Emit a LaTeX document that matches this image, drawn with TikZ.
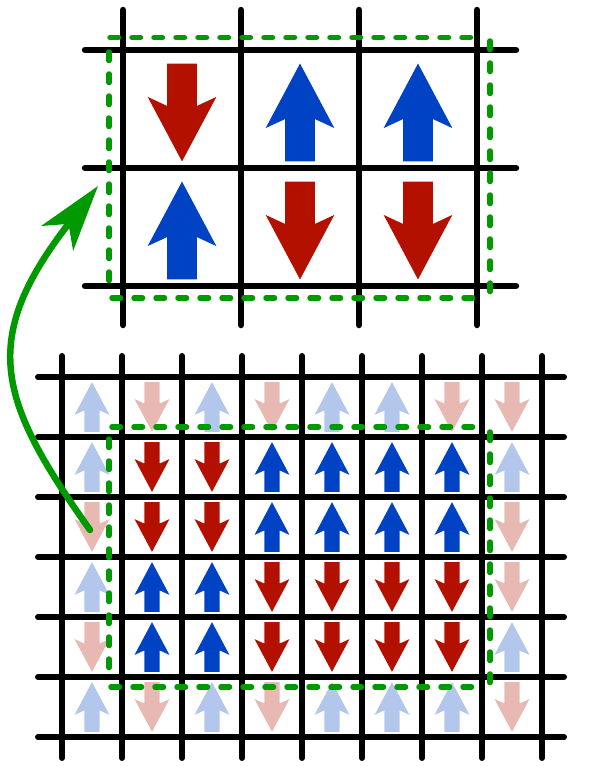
\documentclass[tikz,border=0pt]{standalone}
\usetikzlibrary{arrows.meta}
\definecolor{spinred}{RGB}{180,16,0}
\definecolor{spinblue}{RGB}{0,66,196}
\definecolor{lightblue}{RGB}{179,199,237}
\definecolor{lightred}{RGB}{232,184,179}
\definecolor{sgreen}{RGB}{0,153,0}
\tikzset{
  gridtop/.style={line width=6.5pt, line cap=round, draw=black},
  gridbot/.style={line width=6pt, line cap=round, draw=black},
  greendash/.style={draw=sgreen, line width=5.5pt, line cap=round, dash pattern=on 8.5pt off 13.5pt},
  greenarrow/.style={draw=sgreen, line width=6.5pt, line cap=round, -{Stealth[length=66pt,width=40pt,inset=18pt]}}
}
\newcommand\spinarr[5]{%
  \begin{scope}[shift={(#1,#2)},x=#3pt,y=#4#3pt]
    \fill[#5] (0,0.415) -- (0.291,-0.132) -- (0.127,-0.056) -- (0.127,-0.415)
      -- (-0.127,-0.415) -- (-0.127,-0.056) -- (-0.291,-0.132) -- cycle;
  \end{scope}}
\newcommand\spuL[2]{\spinarr{#1}{#2}{60}{}{lightblue}}
\newcommand\spdL[2]{\spinarr{#1}{#2}{60}{-}{lightred}}
\newcommand\spuB[2]{\spinarr{#1}{#2}{60}{}{spinblue}}
\newcommand\spdR[2]{\spinarr{#1}{#2}{60}{-}{spinred}}
\begin{document}
\begin{tikzpicture}[x=1pt,y=-1pt]
\useasboundingbox (0,0) rectangle (603,768);
% ---------- top grid ----------
\foreach \x in {123,241,359,477} \draw[gridtop] (\x,10) -- (\x,325);
\foreach \y in {50,168,286} \draw[gridtop] (85,\y) -- (516,\y);
\spinarr{182}{112.5}{118}{-}{spinred}
\spinarr{300}{112.5}{118}{}{spinblue}
\spinarr{418}{112.5}{118}{}{spinblue}
\spinarr{182}{230.5}{118}{}{spinblue}
\spinarr{300}{230.5}{118}{-}{spinred}
\spinarr{418}{230.5}{118}{-}{spinred}
% dashed frame (top)
\draw[greendash] (110,37.5) -- (482,37.5);
\draw[greendash] (490,41) -- (490,295);
\draw[greendash] (112,298) -- (482,298);
\draw[greendash] (109,52) -- (109,287);
% ---------- bottom grid ----------
\foreach \x in {62,122,182,242,302,362,422,482,542} \draw[gridbot] (\x,356) -- (\x,758);
\foreach \y in {377,437,497,557,617,677,737} \draw[gridbot] (38,\y) -- (564,\y);
\foreach \t [count=\i, evaluate=\i as \xx using 32+60*\i] in {uL,dL,uL,dL,uL,uL,dL,dL}
  {\csname sp\t\endcsname{\xx}{407}}
\foreach \t [count=\i, evaluate=\i as \xx using 32+60*\i] in {uL,dR,dR,uB,uB,uB,uB,uL}
  {\csname sp\t\endcsname{\xx}{467}}
\foreach \t [count=\i, evaluate=\i as \xx using 32+60*\i] in {dL,dR,dR,uB,uB,uB,uB,dL}
  {\csname sp\t\endcsname{\xx}{527}}
\foreach \t [count=\i, evaluate=\i as \xx using 32+60*\i] in {uL,uB,uB,dR,dR,dR,dR,dL}
  {\csname sp\t\endcsname{\xx}{587}}
\foreach \t [count=\i, evaluate=\i as \xx using 32+60*\i] in {dL,uB,uB,dR,dR,dR,dR,uL}
  {\csname sp\t\endcsname{\xx}{647}}
\foreach \t [count=\i, evaluate=\i as \xx using 32+60*\i] in {uL,dL,uL,dL,uL,uL,uL,dL}
  {\csname sp\t\endcsname{\xx}{707}}
% dashed frame (bottom)
\draw[greendash] (112,427) -- (482,427);
\draw[greendash] (490,432) -- (490,687);
\draw[greendash] (111,687) -- (478,687);
\draw[greendash] (109,439) -- (109,673);
% ---------- green curved arrow ----------
\coordinate (gsrc) at (90,530);
\coordinate (gdst) at (98,186);
\draw[greenarrow] (gsrc) .. controls (-2,400) and (-22,340) .. (gdst);
\end{tikzpicture}
\end{document}
